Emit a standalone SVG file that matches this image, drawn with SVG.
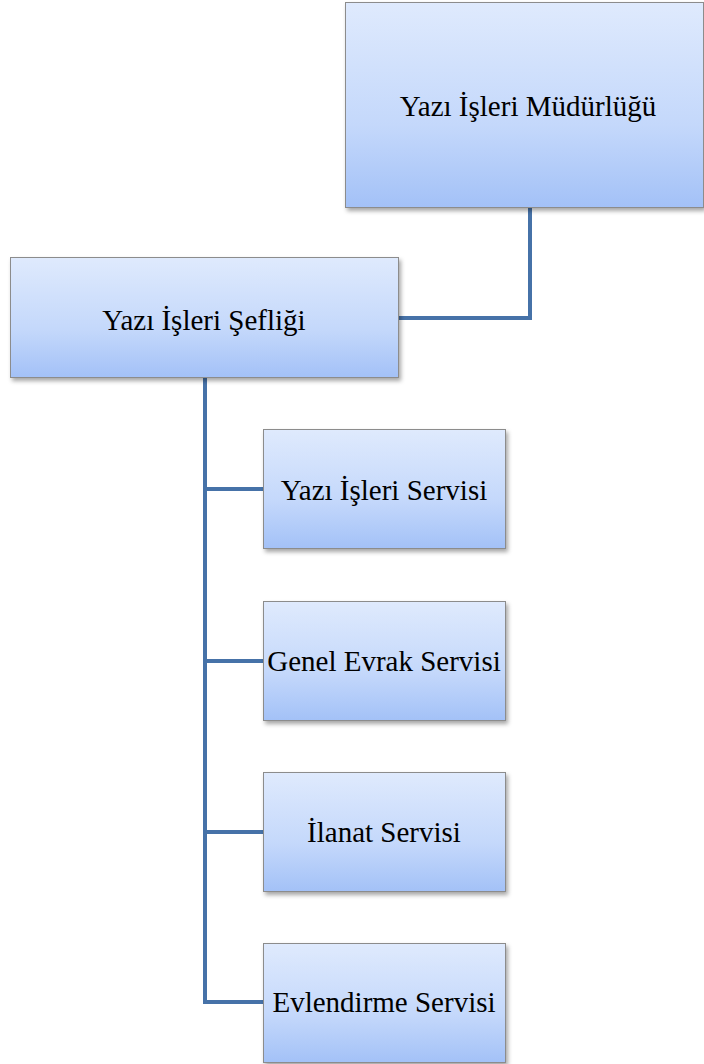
<svg xmlns="http://www.w3.org/2000/svg" width="704" height="1064" viewBox="0 0 704 1064">
<defs>
<linearGradient id="g" x1="0" y1="0" x2="0" y2="1">
<stop offset="0" stop-color="#dfeafd"/>
<stop offset="0.6" stop-color="#c4d8fb"/>
<stop offset="1" stop-color="#a3c1f7"/>
</linearGradient>
<filter id="sh" x="-5%" y="-5%" width="115%" height="115%">
<feDropShadow dx="2" dy="3" stdDeviation="2" flood-color="#000" flood-opacity="0.35"/>
</filter>
</defs>
<style>
.box{fill:url(#g);stroke:#8c8c8c;stroke-width:1;filter:url(#sh)}
.t{font-family:"Liberation Serif","Times New Roman",serif;font-size:29px;fill:#000;text-anchor:middle}
.c{fill:none;stroke:#4672a8;stroke-width:4}
</style>
<g id="connectors">
<polyline class="c" points="530,207 530,318 398,318"/>
<polyline class="c" points="205,377 205,1002 263,1002"/>
<line class="c" x1="205" y1="489" x2="263" y2="489"/>
<line class="c" x1="205" y1="661" x2="263" y2="661"/>
<line class="c" x1="205" y1="832" x2="263" y2="832"/>
</g>
<g id="mudurluk">
<rect class="box" x="345.5" y="2.5" width="358" height="205"/>
<text class="t" x="528" y="116">Yazı İşleri Müdürlüğü</text>
</g>
<g id="seflik">
<rect class="box" x="10.5" y="257.5" width="388" height="120"/>
<text class="t" x="204" y="330">Yazı İşleri Şefliği</text>
</g>
<g id="yazi-isleri-servisi">
<rect class="box" x="263.5" y="429.5" width="242" height="119"/>
<text class="t" x="384" y="500">Yazı İşleri Servisi</text>
</g>
<g id="genel-evrak-servisi">
<rect class="box" x="263.5" y="601.5" width="242" height="119"/>
<text class="t" x="384" y="671">Genel Evrak Servisi</text>
</g>
<g id="ilanat-servisi">
<rect class="box" x="263.5" y="772.5" width="242" height="119"/>
<text class="t" x="384" y="842">İlanat Servisi</text>
</g>
<g id="evlendirme-servisi">
<rect class="box" x="263.5" y="943.5" width="242" height="119"/>
<text class="t" x="384" y="1012">Evlendirme Servisi</text>
</g>
</svg>
